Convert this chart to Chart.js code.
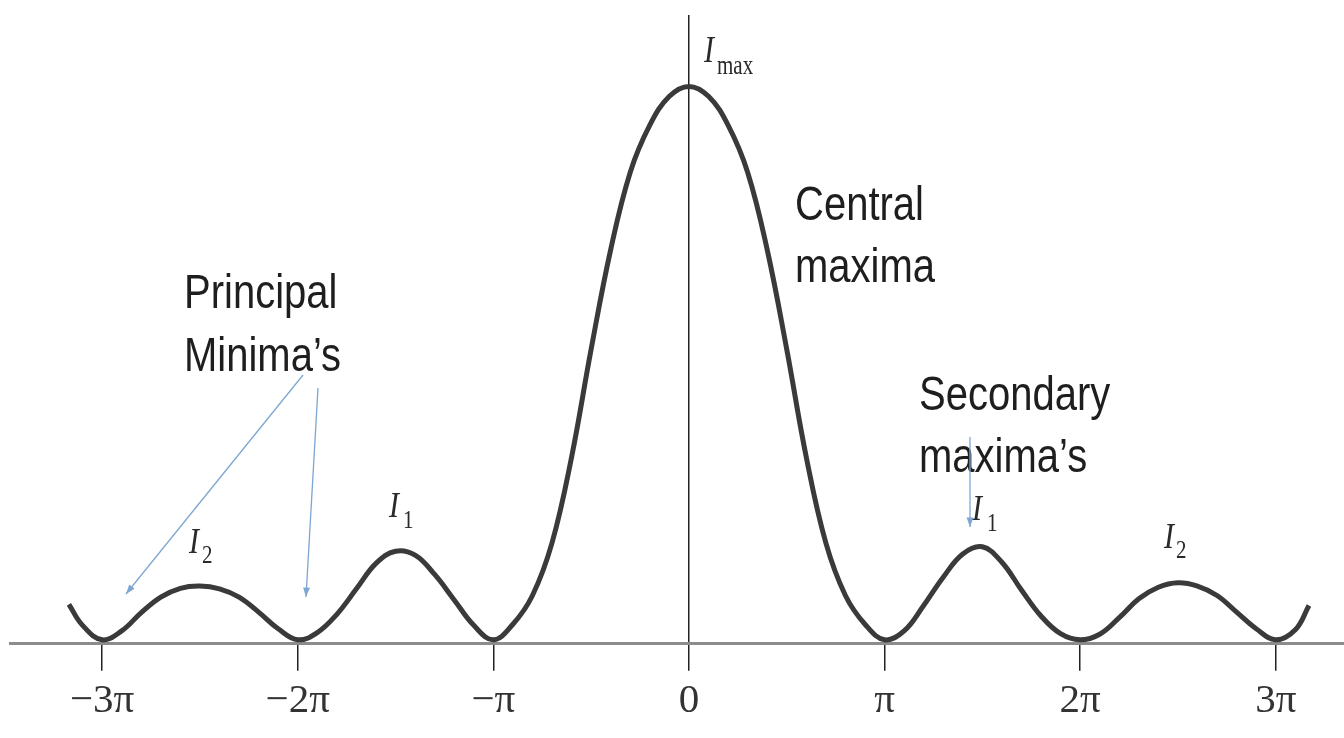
<!DOCTYPE html>
<html><head><meta charset="utf-8">
<script src="https://cdn.jsdelivr.net/npm/chart.js@4.4.1/dist/chart.umd.min.js"></script>
<style>html,body{margin:0;padding:0;background:#fff;}#wrap{width:1344px;height:738px;}</style>
</head><body><div id="wrap"><canvas id="c" width="1344" height="738"></canvas></div>
<script>
// phase in units of pi
const phaseX = [-3.17,-3.1,-3.0,-2.9,-2.8,-2.7,-2.6,-2.5,-2.4,-2.3,-2.2,-2.1,-2.0,-1.9,-1.8,-1.7,-1.6,-1.5,-1.4,-1.3,-1.2,-1.1,-1.0,-0.9,-0.8,-0.7,-0.6,-0.5,-0.4,-0.3,-0.2,-0.1,0,0.1,0.2,0.3,0.4,0.5,0.6,0.7,0.8,0.9,1.0,1.1,1.2,1.3,1.4,1.5,1.6,1.7,1.8,1.9,2.0,2.1,2.2,2.3,2.4,2.5,2.6,2.7,2.8,2.9,3.0,3.1,3.17];
// relative intensity I / Imax
const intensity = [0.064,0.026,0,0.016,0.049,0.077,0.093,0.097,0.092,0.077,0.05,0.02,0,0.013,0.046,0.092,0.138,0.16,0.153,0.118,0.072,0.026,0,0.028,0.08,0.175,0.33,0.525,0.705,0.845,0.93,0.982,1.0,0.982,0.93,0.845,0.705,0.525,0.33,0.175,0.08,0.028,0,0.016,0.062,0.113,0.155,0.168,0.14,0.09,0.043,0.011,0,0.01,0.04,0.074,0.095,0.103,0.097,0.08,0.05,0.02,0,0.018,0.062];
const tickValues = [-3,-2,-1,0,1,2,3];
const tickLabels = ['\u22123\u03c0','\u22122\u03c0','\u2212\u03c0','0','\u03c0','2\u03c0','3\u03c0'];

const points = phaseX.map((x,i)=>({x:x,y:intensity[i]}));

function sText(ctx, txt, x, y, font, sy){
  ctx.save(); ctx.translate(x,y); ctx.scale(1,sy); ctx.font=font; ctx.textBaseline='alphabetic'; ctx.textAlign='left';
  ctx.fillText(txt,0,0); ctx.restore();
}
function arrow(ctx,x1,y1,x2,y2){
  ctx.save(); ctx.strokeStyle='#7ea6d3'; ctx.fillStyle='#7ea6d3'; ctx.lineWidth=1.3;
  ctx.beginPath(); ctx.moveTo(x1,y1); ctx.lineTo(x2,y2); ctx.stroke();
  const a=Math.atan2(y2-y1,x2-x1), L=10, w=0.35;
  ctx.beginPath(); ctx.moveTo(x2,y2);
  ctx.lineTo(x2-L*Math.cos(a-w), y2-L*Math.sin(a-w));
  ctx.lineTo(x2-L*Math.cos(a+w), y2-L*Math.sin(a+w));
  ctx.closePath(); ctx.fill(); ctx.restore();
}
const notes = {
  id:'notes',
  afterDatasetsDraw(chart){
    const ctx = chart.ctx;
    ctx.save();
    ctx.fillStyle='#1e1e1e';
    const sans='40px "Liberation Sans", Arial, sans-serif';
    sText(ctx,'Central',795,220,sans,1.2);
    sText(ctx,'maxima',795,282,sans,1.2);
    sText(ctx,'Principal',184,308,sans,1.2);
    sText(ctx,'Minima\u2019s',184,371,sans,1.2);
    sText(ctx,'Secondary',919,410,sans,1.2);
    sText(ctx,'maxima\u2019s',919,472,sans,1.2);
    ctx.fillStyle='#2a2a2a';
    const it='italic 30px "Liberation Serif", serif';
    const sub='21px "Liberation Serif", serif';
    sText(ctx,'I',704,62,it,1.25); sText(ctx,'max',717,74,sub,1.25);
    sText(ctx,'I',189,553,it,1.2); sText(ctx,'2',202,563,sub,1.2);
    sText(ctx,'I',389,517,it,1.2); sText(ctx,'1',403,528,sub,1.2);
    sText(ctx,'I',972,520,it,1.2); sText(ctx,'1',987,531,sub,1.2);
    sText(ctx,'I',1164,548,it,1.2); sText(ctx,'2',1176,558,sub,1.2);
    arrow(ctx,303,375,126,594);
    arrow(ctx,318,388,306,597);
    arrow(ctx,970,437,970,527);
    ctx.restore();
  }
};

new Chart(document.getElementById('c'), {
  type:'line',
  data:{datasets:[{data:points,borderColor:'#3a3a3a',borderWidth:5,pointRadius:0,fill:false,tension:0.4,clip:false}]},
  options:{
    responsive:false, animation:false,
    layout:{padding:{left:10,right:0,top:15,bottom:6}},
    plugins:{legend:{display:false},tooltip:{enabled:false}},
    scales:{
      x:{type:'linear',min:-3.471,max:3.349,
        afterBuildTicks(s){ s.ticks = tickValues.map(v=>({value:v})); },
        ticks:{autoSkip:false,maxRotation:0,padding:6,color:'#333',
          font:{family:'"Liberation Serif", serif',size:41},
          callback:(v)=>{const i=tickValues.indexOf(v);return i>=0?tickLabels[i]:'';}},
        grid:{drawOnChartArea:true,tickLength:27,lineWidth:1.5,tickWidth:1.5,tickColor:'#222',
          color:(c)=> (c.tick && c.tick.value===0) ? '#222' : 'rgba(0,0,0,0)'},
        border:{display:true,color:'#8c8c8c',width:3}
      },
      y:{display:false,min:-0.0073,max:1.129}
    }
  },
  plugins:[notes]
});
</script></body></html>
